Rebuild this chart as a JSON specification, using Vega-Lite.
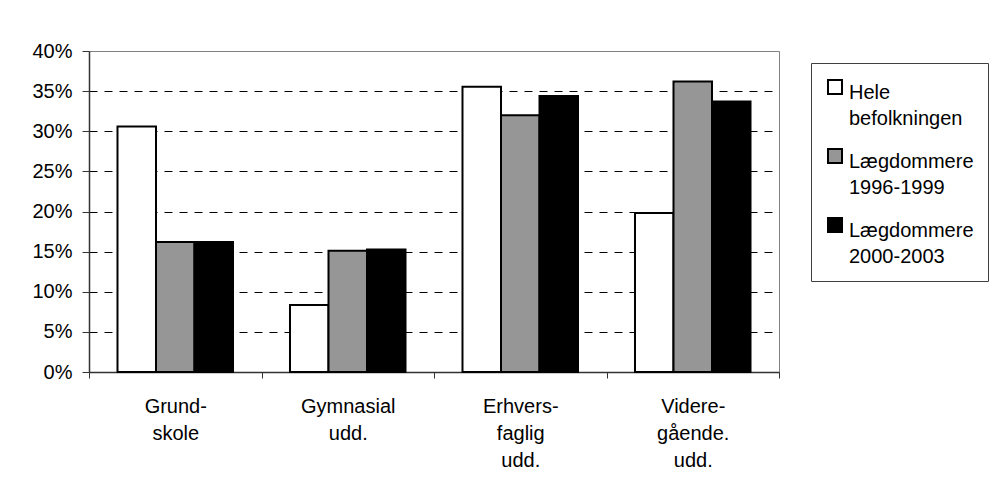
{
  "$schema": "https://vega.github.io/schema/vega-lite/v6.json",
  "width": 690,
  "height": 321,
  "padding": {"left": 31, "top": 41, "right": 0, "bottom": 0},
  "background": "white",
  "config": {
    "view": {"stroke": "#808080", "strokeWidth": 1},
    "font": "Liberation Sans"
  },
  "data": {
    "values": [
      {"category": "Grund- skole", "series": "Hele befolkningen", "value": 0.306},
      {"category": "Grund- skole", "series": "Lægdommere 1996-1999", "value": 0.162},
      {"category": "Grund- skole", "series": "Lægdommere 2000-2003", "value": 0.162},
      {"category": "Gymnasial udd.", "series": "Hele befolkningen", "value": 0.0835},
      {"category": "Gymnasial udd.", "series": "Lægdommere 1996-1999", "value": 0.151},
      {"category": "Gymnasial udd.", "series": "Lægdommere 2000-2003", "value": 0.1525},
      {"category": "Erhvers- faglig udd.", "series": "Hele befolkningen", "value": 0.3555},
      {"category": "Erhvers- faglig udd.", "series": "Lægdommere 1996-1999", "value": 0.32},
      {"category": "Erhvers- faglig udd.", "series": "Lægdommere 2000-2003", "value": 0.344},
      {"category": "Videre- gående. udd.", "series": "Hele befolkningen", "value": 0.198},
      {"category": "Videre- gående. udd.", "series": "Lægdommere 1996-1999", "value": 0.362},
      {"category": "Videre- gående. udd.", "series": "Lægdommere 2000-2003", "value": 0.337}
    ]
  },
  "mark": {"type": "bar", "stroke": "black", "strokeWidth": 2},
  "encoding": {
    "x": {
      "field": "category",
      "type": "nominal",
      "sort": null,
      "scale": {"paddingInner": 0, "paddingOuter": 0},
      "axis": {
        "title": null,
        "labelAngle": 0,
        "labelExpr": "split(datum.label, ' ')",
        "labelFontSize": 20,
        "labelLineHeight": 27,
        "labelColor": "black",
        "labelPadding": 18,
        "tickBand": "extent",
        "tickSize": 6,
        "tickColor": "#333333",
        "domainColor": "#333333",
        "domainWidth": 1.5,
        "labelLimit": 200
      }
    },
    "xOffset": {
      "field": "series",
      "type": "nominal",
      "sort": null,
      "scale": {"paddingInner": 0, "paddingOuter": 0.74}
    },
    "y": {
      "field": "value",
      "type": "quantitative",
      "scale": {"domain": [0, 0.4], "nice": false},
      "axis": {
        "title": null,
        "values": [0, 0.05, 0.1, 0.15, 0.2, 0.25, 0.3, 0.35, 0.4],
        "format": ".0%",
        "labelFontSize": 20,
        "labelColor": "black",
        "labelPadding": 10,
        "tickSize": 7,
        "tickColor": "#333333",
        "domainColor": "#333333",
        "domainWidth": 1.5,
        "grid": true,
        "gridColor": {"condition": {"test": "datum.value <= 0 || datum.value >= 0.4", "value": "transparent"}, "value": "black"},
        "gridDash": [8, 7],
        "gridWidth": 1
      }
    },
    "color": {
      "field": "series",
      "type": "nominal",
      "sort": null,
      "scale": {
        "domain": ["Hele befolkningen", "Lægdommere 1996-1999", "Lægdommere 2000-2003"],
        "range": ["#ffffff", "#969696", "#000000"]
      },
      "legend": {
        "title": null,
        "orient": "none",
        "legendX": 722,
        "legendY": 12,
        "strokeColor": "#404040",
        "fillColor": "white",
        "padding": 14,
        "symbolType": "square",
        "symbolSize": 196,
        "symbolStrokeColor": "black",
        "symbolStrokeWidth": 2,
        "symbolOpacity": 1,
        "labelFontSize": 20,
        "labelColor": "black",
        "labelBaseline": "top",
        "labelOffset": 4,
        "rowPadding": 16,
        "labelExpr": "split(datum.label, ' ')",
        "labelLimit": 300,
        "encode": {"labels": {"update": {"lineHeight": {"value": 25.6}, "dy": {"value": -4}}}}
      }
    }
  }
}
